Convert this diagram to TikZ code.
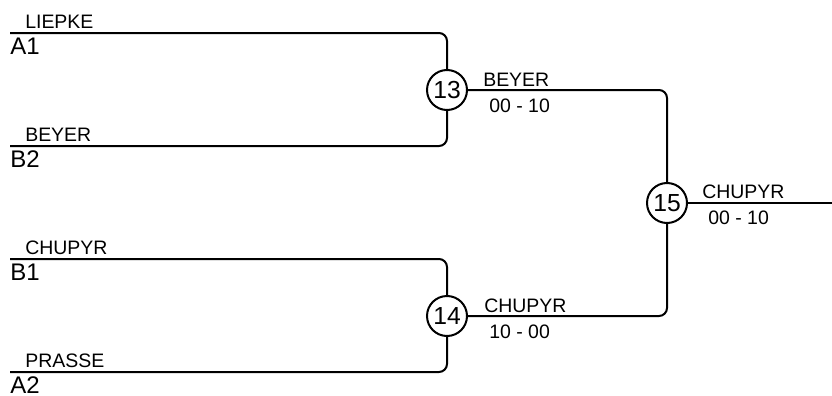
\documentclass[tikz,border=0pt]{standalone}
\usepackage{fontspec}
\setmainfont{Liberation Sans}
\usetikzlibrary{positioning, calc}

\tikzset{
    matchnode/.style={circle, draw, line width=1.5pt, minimum size=30pt, inner sep=0pt, font=\fontsize{18.5}{18}\selectfont},
    bracket/.style={line width=1.5pt, rounded corners=6pt},
    playername/.style={anchor=base west, inner sep=0pt, font=\fontsize{14.6}{15}\selectfont},
    seedlabel/.style={anchor=base west, inner sep=0pt, font=\fontsize{18}{18}\selectfont},
    scorelabel/.style={anchor=base west, inner sep=0pt, font=\fontsize{14.6}{15}\selectfont}
}

\begin{document}
\begin{tikzpicture}[x=0.75pt, y=-0.75pt]
    \useasboundingbox (0,0) rectangle (832,396);

    % Matches
    \node[matchnode] (m13) at (447,90) {13};
    \node[matchnode] (m14) at (447,316) {14};
    \node[matchnode] (m15) at (667,203) {15};
    \coordinate (final) at (832,203);

    % Entries
    \foreach \y/\player/\seed in {33/LIEPKE/A1, 146/BEYER/B2, 259/CHUPYR/B1, 372/PRASSE/A2} {
        \coordinate (e-\seed) at (10,\y);
        \node[playername] at (25,\y-5) {\player};
        \node[seedlabel] at (10,\y+21.5) {\seed};
    }

    % Bracket lines
    \draw[bracket] (e-A1) -| (m13);
    \draw[bracket] (e-B2) -| (m13);
    \draw[bracket] (e-B1) -| (m14);
    \draw[bracket] (e-A2) -| (m14);
    \draw[bracket] (m13) -| (m15);
    \draw[bracket] (m14) -| (m15);
    \draw[bracket] (m15) -- (final);

    % Winners and scores
    \node[playername] at (483,86) {BEYER};
    \node[scorelabel] at (489,112) {00 - 10};
    \node[playername] at (484,312) {CHUPYR};
    \node[scorelabel] at (489,338) {10 - 00};
    \node[playername] at (702,198) {CHUPYR};
    \node[scorelabel] at (708,224) {00 - 10};
\end{tikzpicture}
\end{document}
